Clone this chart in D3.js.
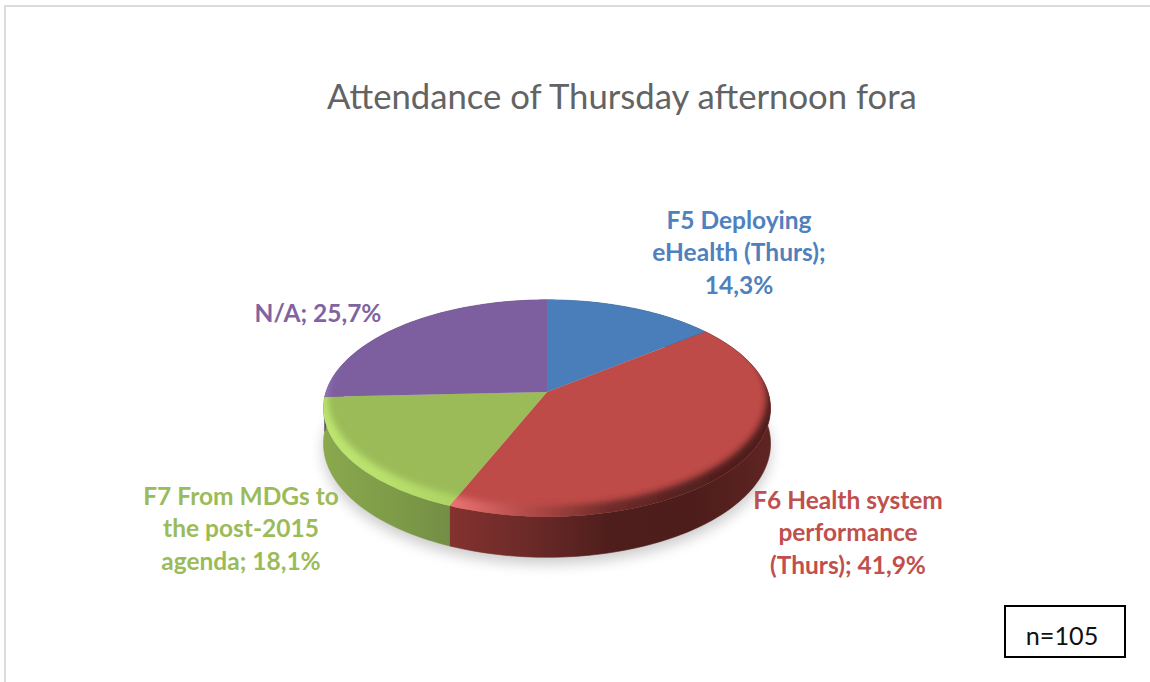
<!DOCTYPE html>
<html>
<head>
<meta charset="utf-8">
<script src="https://cdn.jsdelivr.net/npm/d3@7"></script>
<style>
  html, body { margin: 0; padding: 0; background: #fff; }
  svg { display: block; }
  text { font-family: Lato, "Open Sans", sans-serif; }
</style>
</head>
<body>
<div id="chart"></div>
<script>
// data
var chartTitle = "Attendance of Thursday afternoon fora";
var categories = ["F5 Deploying eHealth (Thurs)", "F6 Health system performance (Thurs)", "F7 From MDGs to the post-2015 agenda", "N/A"];
var shares = [14.3, 41.9, 18.1, 25.7];
var labelLines = [
  ["F5 Deploying", "eHealth (Thurs);", "14,3%"],
  ["F6 Health system", "performance", "(Thurs); 41,9%"],
  ["F7 From MDGs to", "the post-2015", "agenda; 18,1%"],
  ["N/A; 25,7%"]
];
var sampleSize = "n=105";

// styling, one entry per slice
var topColors = ["#4a7ebb", "#be4b48", "#9bbb59", "#7d5fa0"];
var textColors = ["#4f81bd", "#c0504d", "#9bbb59", "#8064a2"];
var sideStops = [
  ["#3a6494", "#2f5078"],
  ["#83322f", "#6b2a28", "#4e1e1c", "#4c1d1b", "#5e2422"],
  ["#8aa84d", "#7f9d49", "#748e45"],
  ["#64497f", "#5a4272"]
];
var rimStops = [
  ["#4a7ebb", "#2f5480"],
  ["#ec7472", "#b04a47", "#6f2b29", "#542020", "#4e1e1c"],
  ["#bde56f", "#b9e06c", "#aed564"],
  ["#9a78c2", "#7d5fa0"]
];
var labelX = [739, 848, 241, 318];
var labelY = [229, 509, 505, 322];

var width = 1150, height = 682;
var cx = 547, cy = 392;

var svg = d3.select("#chart").append("svg")
  .attr("width", width)
  .attr("height", height);

var defs = svg.append("defs");
defs.append("filter").attr("id", "soft").attr("x", "-20%").attr("y", "-20%").attr("width", "140%").attr("height", "140%")
  .append("feGaussianBlur").attr("stdDeviation", 3.4);
defs.append("filter").attr("id", "shadow").attr("x", "-20%").attr("y", "-40%").attr("width", "140%").attr("height", "180%")
  .append("feGaussianBlur").attr("stdDeviation", 7);

// page frame
svg.append("path")
  .attr("d", "M5," + height + "V6H" + width)
  .attr("fill", "none")
  .attr("stroke", "#dcdcdc")
  .attr("stroke-width", 2);

svg.append("text")
  .attr("x", 622).attr("y", 109)
  .attr("text-anchor", "middle")
  .attr("font-size", 34.7)
  .attr("fill", "#636363")
  .text(chartTitle);

// the pie lies on a tilted plane: a circle seen in perspective
var planeX = 221, planeY = 106, tilt = 0.15, depth = 34.5;

function project(angle, r, drop) {
  var ux = Math.sin(angle) * r, uy = -Math.cos(angle) * r;
  var w = 1 - tilt * uy;
  return [cx + planeX * ux / w, cy + planeY * uy / w + (drop ? depth / w : 0)];
}

function arcPoints(a0, a1, drop) {
  var n = Math.max(2, Math.ceil((a1 - a0) * 40));
  return d3.range(n + 1).map(function(i) {
    return project(a0 + (a1 - a0) * i / n, 1, drop);
  });
}

var line = d3.line();
var pie = d3.pie().sort(null).value(function(d) { return d; });
var slices = pie(shares);

// colour stops follow the x range each slice really covers
slices.forEach(function(s, i) {
  var xs = arcPoints(s.startAngle, s.endAngle, false).map(function(p) { return p[0]; });
  var x0 = d3.min(xs), x1 = d3.max(xs);
  [["side" + i, sideStops[i]], ["rim" + i, rimStops[i]]].forEach(function(item) {
    var g = defs.append("linearGradient").attr("id", item[0])
      .attr("gradientUnits", "userSpaceOnUse")
      .attr("x1", x0).attr("x2", x1).attr("y1", 0).attr("y2", 0);
    item[1].forEach(function(c, j) {
      g.append("stop").attr("offset", j / (item[1].length - 1)).attr("stop-color", c);
    });
  });
});

// ground shadow
var bottomOutline = arcPoints(0, 2 * Math.PI, true);
svg.append("path")
  .attr("d", line(bottomOutline) + "Z")
  .attr("transform", "translate(0,7)")
  .attr("fill", "#000")
  .attr("opacity", 0.2)
  .attr("filter", "url(#shadow)");

// side wall
svg.append("g").selectAll("path")
  .data(slices)
  .enter().append("path")
  .attr("d", function(s) {
    var upper = arcPoints(s.startAngle, s.endAngle, false);
    var lower = arcPoints(s.startAngle, s.endAngle, true).reverse();
    return line(upper.concat(lower)) + "Z";
  })
  .attr("fill", function(s, i) { return "url(#side" + i + ")"; })
  .attr("stroke", function(s, i) { return "url(#side" + i + ")"; })
  .attr("stroke-width", 0.6);

// top faces, with a bevel along the rim
function slicePath(s) {
  return line([project(0, 0, false)].concat(arcPoints(s.startAngle, s.endAngle, false))) + "Z";
}

var tops = svg.append("g");
slices.forEach(function(s, i) {
  defs.append("clipPath").attr("id", "clip" + i)
    .append("path").attr("d", slicePath(s));

  tops.append("path")
    .attr("d", slicePath(s))
    .attr("fill", topColors[i]);

  // everything outside the outline pulled back a little; the big box keeps
  // the blur from fading at the clip edge
  var inner = arcPoints(0, 2 * Math.PI, false).map(function(p) {
    return [cx + (p[0] - cx) * 0.982, p[1] - 11];
  });
  tops.append("g")
    .attr("clip-path", "url(#clip" + i + ")")
    .append("path")
    .attr("d", "M280,260H820V600H280Z" + line(inner) + "Z")
    .attr("fill-rule", "evenodd")
    .attr("fill", "url(#rim" + i + ")")
    .attr("filter", "url(#soft)");
});

// data labels
slices.forEach(function(s, i) {
  var t = svg.append("text")
    .attr("text-anchor", "middle")
    .attr("font-size", 24.5)
    .attr("font-weight", 700)
    .attr("fill", textColors[i]);
  labelLines[i].forEach(function(txt, j) {
    t.append("tspan")
      .attr("x", labelX[i])
      .attr("y", labelY[i] + j * 32.3)
      .text(txt);
  });
});

// sample size box
svg.append("rect")
  .attr("x", 1005).attr("y", 606)
  .attr("width", 120).attr("height", 51)
  .attr("fill", "#fff")
  .attr("stroke", "#000")
  .attr("stroke-width", 2);
svg.append("text")
  .attr("x", 1062).attr("y", 645)
  .attr("text-anchor", "middle")
  .attr("font-size", 25.2)
  .attr("fill", "#111")
  .text(sampleSize);
</script>
</body>
</html>
